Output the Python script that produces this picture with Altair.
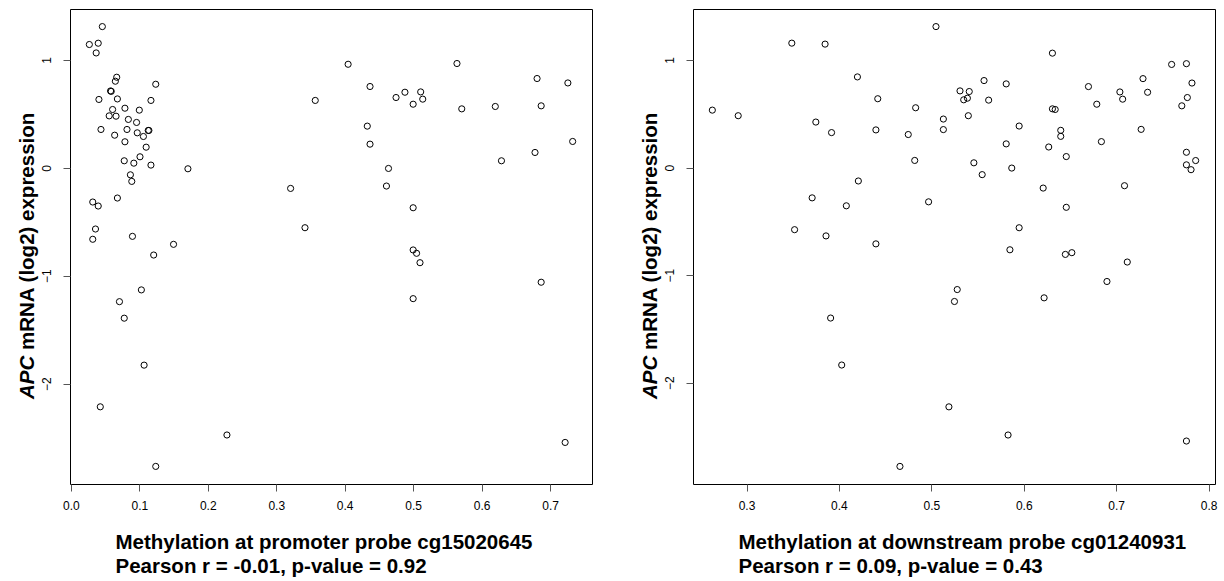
import altair as alt
import pandas as pd

FONT = "Liberation Sans"

# ---- Panel 1: promoter probe cg15020645 ----
prom_x = [0.046, 0.027, 0.040, 0.037, 0.067, 0.065, 0.124, 0.058, 0.059, 0.041,
          0.068, 0.117, 0.061, 0.079, 0.100, 0.056, 0.066, 0.084, 0.096, 0.044,
          0.082, 0.097, 0.113, 0.114, 0.064, 0.106, 0.079, 0.110, 0.101, 0.078,
          0.092, 0.117, 0.171, 0.087, 0.089, 0.068, 0.032, 0.040, 0.036, 0.032,
          0.090, 0.150, 0.121, 0.103, 0.071, 0.078, 0.107, 0.043, 0.228, 0.124,
          0.405, 0.564, 0.437, 0.357, 0.475, 0.488, 0.511, 0.514, 0.500, 0.571,
          0.433, 0.437, 0.464, 0.321, 0.461, 0.500, 0.342, 0.500, 0.505, 0.510,
          0.500, 0.681, 0.726, 0.620, 0.687, 0.733, 0.678, 0.629, 0.687, 0.722]
prom_y = [1.308, 1.142, 1.154, 1.064, 0.839, 0.802, 0.774, 0.712, 0.708, 0.633,
          0.638, 0.624, 0.540, 0.552, 0.534, 0.481, 0.478, 0.448, 0.420, 0.355,
          0.355, 0.324, 0.346, 0.346, 0.302, 0.290, 0.241, 0.191, 0.102, 0.065,
          0.043, 0.025, -0.009, -0.065, -0.126, -0.280, -0.317, -0.354, -0.567, -0.662,
          -0.635, -0.709, -0.808, -1.131, -1.240, -1.393, -1.828, -2.214, -2.475, -2.766,
          0.959, 0.966, 0.753, 0.624, 0.651, 0.700, 0.703, 0.636, 0.589, 0.546,
          0.386, 0.219, -0.006, -0.191, -0.169, -0.370, -0.555, -0.761, -0.792, -0.879,
          -1.212, 0.827, 0.786, 0.568, 0.574, 0.244, 0.142, 0.065, -1.060, -2.544]

# ---- Panel 2: downstream probe cg01240931 ----
down_x = [0.349, 0.263, 0.291, 0.375, 0.371, 0.352,
          0.385, 0.505, 0.420, 0.557, 0.581, 0.442, 0.531, 0.541, 0.535, 0.539,
          0.562, 0.483, 0.540, 0.513, 0.595, 0.392, 0.440, 0.475, 0.513, 0.581,
          0.482, 0.546, 0.587, 0.555, 0.421, 0.408, 0.497, 0.386, 0.440, 0.585,
          0.528, 0.525, 0.391, 0.403, 0.519, 0.583, 0.466,
          0.631, 0.729, 0.760, 0.776, 0.782, 0.734, 0.777, 0.771, 0.704, 0.707,
          0.679, 0.670, 0.631, 0.634, 0.640, 0.640, 0.727, 0.627, 0.684, 0.646,
          0.776, 0.786, 0.776, 0.781, 0.709, 0.621, 0.646, 0.595, 0.645, 0.652,
          0.712, 0.690, 0.622, 0.776]
down_y = [1.157, 0.534, 0.482, 0.423, -0.282, -0.578,
          1.148, 1.311, 0.843, 0.809, 0.778, 0.640, 0.713, 0.707, 0.630, 0.645,
          0.627, 0.556, 0.482, 0.451, 0.386, 0.325, 0.350, 0.307, 0.353, 0.220,
          0.066, 0.044, -0.005, -0.066, -0.125, -0.356, -0.319, -0.636, -0.710, -0.765,
          -1.135, -1.246, -1.400, -1.837, -2.226, -2.488, -2.780,
          1.064, 0.827, 0.959, 0.966, 0.786, 0.700, 0.651, 0.574, 0.703, 0.636,
          0.589, 0.753, 0.546, 0.540, 0.346, 0.290, 0.355, 0.191, 0.241, 0.102,
          0.142, 0.065, 0.025, -0.020, -0.169, -0.191, -0.370, -0.560, -0.808, -0.792,
          -0.879, -1.060, -1.212, -2.544]

prom_ticks = [0.0, 0.1, 0.2, 0.3, 0.4, 0.5, 0.6, 0.7]
down_ticks = [0.3, 0.4, 0.5, 0.6, 0.7, 0.8]
y_ticks = [-2, -1, 0, 1]

prom_title = ["Methylation at promoter probe cg15020645", "Pearson r = -0.01, p-value = 0.92"]
down_title = ["Methylation at downstream probe cg01240931", "Pearson r = 0.09, p-value = 0.43"]
ytitle_gene = ["APC"]
ytitle_rest = ["mRNA (log2) expression"]

W, H = 522, 475
TFS = 20.5


def padded(vals):
    lo, hi = min(vals), max(vals)
    r = hi - lo
    return [lo - 0.04 * r, hi + 0.04 * r]


def panel(xs, ys, xticks, xtitle):
    df = pd.DataFrame({"x": xs, "y": ys})
    pts = alt.Chart(df).mark_point(
        shape="circle", filled=False, color="black", size=38, strokeWidth=1, opacity=1
    ).encode(
        x=alt.X("x:Q", scale=alt.Scale(domain=padded(xs), nice=False, zero=False),
                axis=alt.Axis(values=xticks, format=".1f", title=xtitle,
                              titleAlign="left", titleX=45, titleY=64,
                              titleBaseline="alphabetic", titleLineHeight=24,
                              titleFontSize=TFS, titleFontWeight="bold",
                              titleFont=FONT, titleColor="black",
                              labelPadding=9, tickSize=7, labelFlush=False)),
        y=alt.Y("y:Q", scale=alt.Scale(domain=padded(ys), nice=False, zero=False),
                axis=alt.Axis(values=y_ticks, format="d", title=None,
                              labelAngle=270, labelAlign="center", labelBaseline="bottom",
                              labelPadding=10, tickSize=7, labelFlush=False)),
    )
    t1 = alt.Chart(pd.DataFrame({"t": ytitle_gene})).mark_text(
        angle=270, align="left", baseline="middle", fontSize=TFS, fontWeight="bold",
        fontStyle="italic", font=FONT, color="black"
    ).encode(x=alt.value(-42), y=alt.value(390), text="t:N")
    t2 = alt.Chart(pd.DataFrame({"t": ytitle_rest})).mark_text(
        angle=270, align="left", baseline="middle", fontSize=TFS, fontWeight="bold",
        font=FONT, color="black"
    ).encode(x=alt.value(-42), y=alt.value(341), text="t:N")
    return alt.layer(pts, t1, t2).properties(width=W, height=H)


left = panel(prom_x, prom_y, prom_ticks, prom_title)
right = panel(down_x, down_y, down_ticks, down_title)

chart = alt.hconcat(left, right, spacing=47).properties(
    padding={"left": 17, "top": 8, "right": 2, "bottom": 2},
    background="white",
).configure_view(
    stroke="black", strokeWidth=1
).configure_axis(
    domain=False, grid=False, tickColor="#555555", tickWidth=1,
    labelFont=FONT, labelFontSize=12, labelColor="black",
)

chart.save("out.html", embed_options={"renderer": "svg", "actions": False})
